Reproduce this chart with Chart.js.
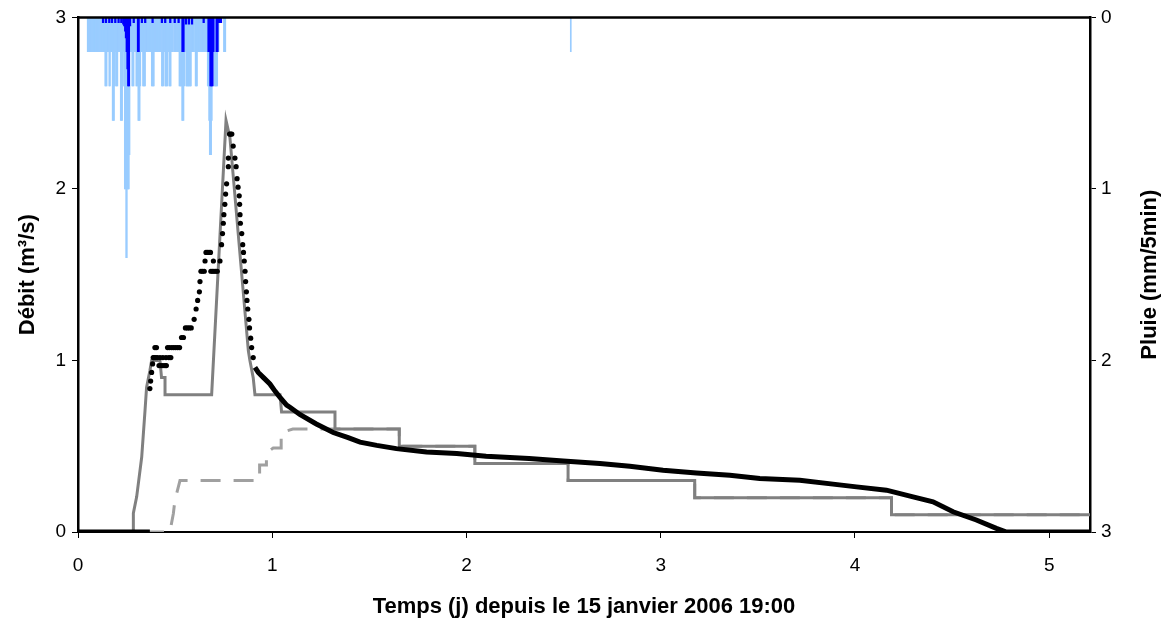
<!DOCTYPE html>
<html lang="fr">
<head>
<meta charset="UTF-8">
<title>Débit et pluie - janvier 2006</title>
<script src="https://cdn.jsdelivr.net/npm/chart.js"></script>
<style>
  html, body { margin: 0; padding: 0; background: #fff; }
</style>
</head>
<body>
<canvas id="chart" width="1168" height="625"></canvas>
<script>
// --- rain (mm/5min), gauge 1, regular 5-minute steps starting at rainStart (days)
const rainStart = 0.05;
const rainStep = 1 / 288;
const rainLight = [
  0.2,0.2,0,0.2,0.2,0.2,0.2,0.2,0.2,0.2, 0.2,0.2,0.2,0.2,0.2,0.2,0.2,0,0.2,0.2,
  0.2,0.2,0.2,0.2,0.2,0.2,0.4,0.4,0.4,0.2, 0.2,0.2,0.4,0.4,0.2,0.2,0.2,0.6,0.6,0.6,
  0.4,0.2,0.4,0.4,0.4,0.2,0.2,0.2,0.2,0.6, 0.6,0.6,0.4,0.2,0.4,1.0,1.0,1.4,1.4,1.0,
  1.0,1.0,0.8,0.2,0.2,0.2,0.4,0.4,0.4,0.2, 0.2,0.2,0.4,0.4,0.4,0.6,0.6,0.6,0.4,0.2,
  0.2,0.2,0.4,0.4,0.4,0.4,0.2,0.2,0.2,0.2, 0.2,0.2,0.2,0.2,0.2,0.4,0.4,0.4,0.4,0.2,
  0.2,0.2,0.2,0.2,0.2,0.2,0.2,0.2,0.2,0, 0.4,0.4,0.4,0.2,0.2,0.4,0.4,0.4,0.4,0.2,
  0.2,0.4,0.4,0.4,0.2,0.2,0.2,0,0.2,0.2, 0.2,0.2,0.2,0.2,0.2,0.2,0.4,0.4,0.4,0.4,
  0.6,0.6,0.6,0.4,0.2,0.2,0.4,0.4,0.4,0.4, 0.4,0.4,0.4,0.4,0.2,0.2,0.2,0.2,0,0.2,
  0.4,0.4,0.4,0.2,0.2,0.2,0.2,0.2,0.2,0.2, 0.2,0.2,0.2,0.2,0,0.2,0.2,0.2,0.4,0.4,
  0.6,0.8,0.8,0.8,0.6,0.4,0.2,0.2,0.4,0.4, 0.4,0.4,0.4,0.2,0.2,0,0,0,0,0,
  0,0,0.2,0.2,0.2
];
const lateRainX = [2.537];
const lateRain = [0.2];

// --- rain, gauge 2 (dark blue)
const darkRainX = [0.129,0.144,0.161,0.175,0.192,0.209,0.223,0.233,0.238,0.243,0.247,0.251,0.255,0.259,0.262,0.268,
  0.287,0.309,0.312,0.329,0.346,0.384,0.432,0.449,0.475,0.498,0.518,0.538,0.543,0.556,0.571,0.587,
  0.647,0.672,0.677,0.682,0.687,0.692,0.697,0.714,0.718,0.726,0.736];
const darkRain = [0.03,0.03,0.03,0.03,0.03,0.03,0.03,0.04,0.05,0.08,0.12,0.2,0.3,0.4,0.4,0.05,
  0.03,0.2,0.2,0.03,0.03,0.03,0.03,0.03,0.03,0.03,0.03,0.2,0.2,0.04,0.04,0.04,
  0.03,0.2,0.2,0.4,0.4,0.4,0.2,0.2,0.2,0.03,0.03];

// --- observed discharge (m3/s): scattered dots during the flood
const obsDotX = [0.370,0.374,0.379,0.384,0.387,0.392,0.396,0.400,0.404,0.408,0.417,0.422,0.427,0.437,0.437,0.448,0.453,0.455,
  0.461,0.468,0.471,0.478,0.483,0.493,0.503,0.513,0.523,0.533,0.543,0.553,0.563,0.573,0.583,0.598,0.608,0.616,0.625,0.628,
  0.633,0.641,0.650,0.654,0.659,0.666,0.674,0.682,0.684,0.692,0.697,0.700,0.709,0.717,0.731,0.739,0.744,0.748,0.751,0.756,
  0.760,0.765,0.774,0.774,0.780,0.786,0.792,0.799,0.808,0.814,0.819,0.824,0.830,0.832,0.834,0.836,0.843,0.848,0.852,0.856,
  0.860,0.863,0.867,0.870,0.874,0.880,0.883,0.889,0.894,0.902];
const obsDotY = [0.836,0.88,0.93,0.98,1.017,1.017,1.075,1.017,1.075,1.017,0.97,1.017,0.97,0.97,1.017,0.97,1.017,0.97,
  1.075,1.017,1.075,1.017,1.075,1.075,1.075,1.075,1.075,1.134,1.134,1.19,1.19,1.19,1.19,1.24,1.30,1.35,1.40,1.46,
  1.52,1.52,1.52,1.58,1.63,1.63,1.63,1.63,1.52,1.52,1.58,1.52,1.52,1.52,1.58,1.675,1.74,1.80,1.85,1.91,
  1.97,2.03,2.13,2.18,2.32,2.32,2.32,2.25,2.18,2.13,2.06,2.01,1.96,1.91,1.85,1.80,1.74,1.675,1.63,1.58,
  1.52,1.46,1.40,1.35,1.30,1.24,1.19,1.13,1.075,1.017];

// observed discharge: continuous parts (null = gap)
const obsLineX = [0,0.370,0.6,0.911,0.928,0.955,0.988,1.015,1.040,1.074,1.091,1.142,1.227,1.314,1.391,1.452,1.538,1.639,
  1.794,1.950,2.101,2.322,2.498,2.687,2.841,3.012,3.184,3.356,3.510,3.716,3.887,4.008,4.162,4.299,4.402,4.505,4.625,
  4.728,4.780,5.21];
const obsLineY = [0,0,null,0.96,0.93,0.90,0.863,0.82,0.785,0.74,0.727,0.685,0.63,0.58,0.55,0.524,0.505,0.486,
  0.466,0.457,0.441,0.428,0.414,0.399,0.383,0.36,0.344,0.331,0.312,0.302,0.279,0.263,0.244,0.205,0.176,0.118,0.07,
  0.021,0,0];

// --- simulated discharge 1 (solid grey)
const sim1X = [0,0.285,0.285,0.302,0.328,0.345,0.353,0.370,0.379,0.422,0.430,0.448,0.448,0.688,0.762,0.782,0.877,0.885,
  0.902,0.911,1.040,1.048,1.323,1.323,1.654,1.654,2.043,2.043,2.523,2.523,3.175,3.175,4.188,4.188,5.21];
const sim1Y = [0,0,0.11,0.205,0.437,0.708,0.843,0.94,1.0,1.0,0.9,0.9,0.8,0.8,2.40,2.30,1.056,1.0,
  0.9,0.8,0.8,0.7,0.7,0.6,0.6,0.5,0.5,0.4,0.4,0.3,0.3,0.2,0.2,0.1,0.1];

// --- simulated discharge 2 (dashed grey)
const sim2X = [0,0.473,0.491,0.499,0.525,0.935,0.935,0.970,0.970,1.005,1.046,1.046,1.106,1.654,1.654,2.043,2.043,
  2.523,2.523,3.175,3.175,4.188,4.188,5.21];
const sim2Y = [0,0,0.108,0.186,0.3,0.3,0.39,0.39,0.46,0.49,0.49,0.58,0.6,0.6,0.5,0.5,0.4,
  0.4,0.3,0.3,0.2,0.2,0.1,0.1];

const xTicks = [0, 1, 2, 3, 4, 5];
const xTitle = 'Temps (j) depuis le 15 janvier 2006 19:00';
const yTitle = 'Débit (m³/s)';
const y2Title = 'Pluie (mm/5min)';

const pts = (xs, ys) => xs.map((x, i) => ({x: x, y: ys[i]}));
const rainPts = rainLight.map((v, i) => ({x: rainStart + i * rainStep, y: v})).concat(pts(lateRainX, lateRain));

const FONT = '"Liberation Sans", Arial, sans-serif';

const frameAndTitles = {
  id: 'frameAndTitles',
  afterDraw(chart) {
    const {ctx, chartArea: a} = chart;
    ctx.save();
    ctx.strokeStyle = '#000';
    ctx.lineWidth = 2.5;
    ctx.beginPath();
    ctx.moveTo(a.left - 1, a.top);
    ctx.lineTo(a.right + 1, a.top);
    ctx.stroke();
    ctx.fillStyle = '#000';
    ctx.font = 'bold 22px ' + FONT;
    ctx.textAlign = 'center';
    ctx.textBaseline = 'middle';
    ctx.fillText(xTitle, (a.left + a.right) / 2, 607);
    const midY = (a.top + a.bottom) / 2;
    [[yTitle, 28], [y2Title, 1150]].forEach(([t, x]) => {
      ctx.save();
      ctx.translate(x, midY);
      ctx.rotate(-Math.PI / 2);
      ctx.fillText(t, 0, 0);
      ctx.restore();
    });
    ctx.restore();
  }
};

const tickGrid = {display: true, drawOnChartArea: false, drawTicks: true, tickLength: 6, tickColor: '#000', tickWidth: 1};

new Chart(document.getElementById('chart'), {
  type: 'line',
  data: {
    datasets: [
      {
        type: 'bar', label: 'Pluie 1', data: rainPts, yAxisID: 'y2', stack: 'rain',
        backgroundColor: '#99CCFF', borderWidth: 0, barThickness: 1, order: 6
      },
      {
        type: 'bar', label: 'Pluie 2', data: pts(darkRainX, darkRain), yAxisID: 'y2', stack: 'rain',
        backgroundColor: '#0000FF', borderWidth: 0, barThickness: 1.6, order: 5
      },
      {
        label: 'Simulé 2', data: pts(sim2X, sim2Y), borderColor: '#A0A0A0', borderWidth: 3,
        borderDash: [20, 13], pointRadius: 0, tension: 0, order: 4
      },
      {
        label: 'Simulé 1', data: pts(sim1X, sim1Y), borderColor: '#808080', borderWidth: 3,
        pointRadius: 0, tension: 0, order: 3
      },
      {
        label: 'Observé', data: pts(obsLineX, obsLineY), borderColor: '#000', borderWidth: 5,
        pointRadius: 0, tension: 0, spanGaps: false, order: 2
      },
      {
        label: 'Observé (points)', data: pts(obsDotX, obsDotY), showLine: false,
        pointRadius: 2.6, pointBackgroundColor: '#000', pointBorderWidth: 0, order: 1
      }
    ]
  },
  options: {
    responsive: false,
    animation: false,
    events: [],
    layout: {padding: {top: 16, left: 0, right: 0, bottom: 0}},
    plugins: {legend: {display: false}, tooltip: {enabled: false}},
    scales: {
      x: {
        type: 'linear', min: 0, max: 5.21, offset: false,
        grid: Object.assign({offset: false}, tickGrid),
        border: {display: true, color: '#000', width: 2},
        afterBuildTicks: s => { s.ticks = xTicks.map(v => ({value: v})); },
        ticks: {color: '#000', font: {family: FONT, size: 19}, padding: 16, maxRotation: 0},
        afterFit: s => { s.height = 93; }
      },
      y: {
        position: 'left', min: 0, max: 3, stacked: false,
        grid: tickGrid,
        border: {display: true, color: '#000', width: 2.5},
        ticks: {stepSize: 1, color: '#000', font: {family: FONT, size: 19}, padding: 6},
        afterFit: s => { s.width = 78; }
      },
      y2: {
        position: 'right', min: 0, max: 3, reverse: true, stacked: false,
        grid: tickGrid,
        border: {display: true, color: '#000', width: 2.5},
        ticks: {stepSize: 1, color: '#000', font: {family: FONT, size: 19}, padding: 5},
        afterFit: s => { s.width = 78; }
      }
    }
  },
  plugins: [frameAndTitles]
});
</script>
</body>
</html>
